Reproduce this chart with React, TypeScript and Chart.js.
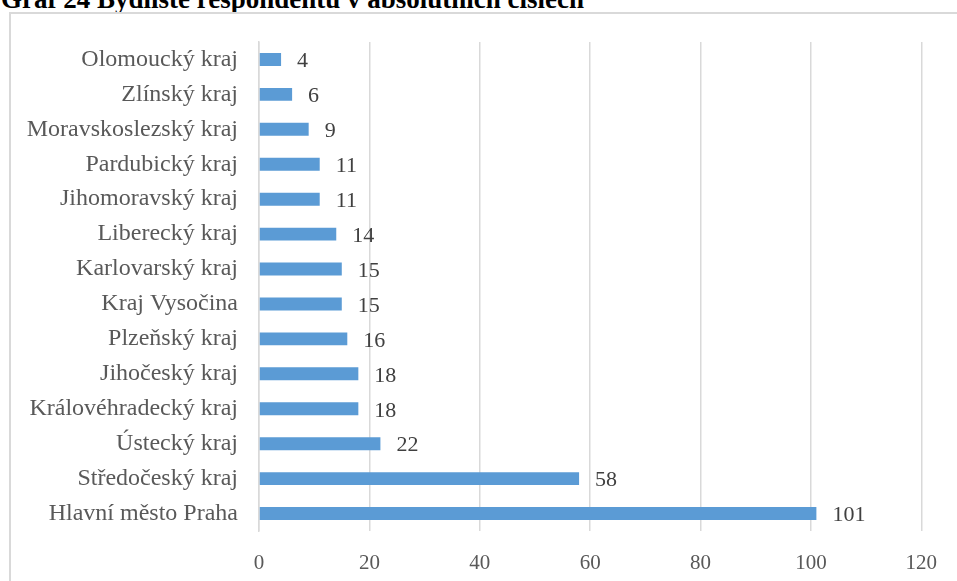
import React, { useEffect, useRef } from "react";
import { Chart, registerables } from "chart.js";

Chart.register(...registerables);

const TITLE = "Graf 24 Bydliště respondentů v absolutních číslech";
const regions = [
  "Olomoucký kraj",
  "Zlínský kraj",
  "Moravskoslezský kraj",
  "Pardubický kraj",
  "Jihomoravský kraj",
  "Liberecký kraj",
  "Karlovarský kraj",
  "Kraj Vysočina",
  "Plzeňský kraj",
  "Jihočeský kraj",
  "Královéhradecký kraj",
  "Ústecký kraj",
  "Středočeský kraj",
  "Hlavní město Praha",
];
const counts = [4, 6, 9, 11, 11, 14, 15, 15, 16, 18, 18, 22, 58, 101];
const xMax = 120;
const xStep = 20;

const FONT = "'Liberation Serif', 'Times New Roman', serif";

const valueLabels = {
  id: "valueLabels",
  afterDatasetsDraw(chart: any) {
    const ctx = chart.ctx;
    const meta = chart.getDatasetMeta(0);
    ctx.save();
    ctx.font = `22px ${FONT}`;
    ctx.fillStyle = "#404040";
    ctx.textAlign = "left";
    ctx.textBaseline = "middle";
    meta.data.forEach((el: any, i: number) => {
      ctx.fillText(String(counts[i]), el.x + 16, el.y + 2);
    });
    ctx.restore();
  },
};

export default function App() {
  const ref = useRef<HTMLCanvasElement | null>(null);
  useEffect(() => {
    if (!ref.current) return;
    const chart = new Chart(ref.current, {
      type: "bar",
      data: {
        labels: regions,
        datasets: [
          {
            data: counts,
            backgroundColor: "#5B9BD5",
            borderWidth: 0,
            barPercentage: 0.37,
            categoryPercentage: 1,
          },
        ],
      },
      options: {
        indexAxis: "y",
        animation: false,
        responsive: false,
        maintainAspectRatio: false,
        layout: { padding: { top: 42, right: 33, bottom: 0, left: 0 } },
        plugins: {
          legend: { display: false },
          tooltip: { enabled: false },
        },
        scales: {
          x: {
            min: 0,
            max: xMax,
            ticks: {
              stepSize: xStep,
              padding: 20,
              color: "#595959",
              font: { family: FONT, size: 21 },
            },
            grid: { color: "#d9d9d9", lineWidth: 1.5, drawTicks: false },
            border: { display: false },
            afterFit: (s: any) => {
              s.height = 50;
            },
          },
          y: {
            ticks: {
              padding: 21,
              color: "#595959",
              font: { family: FONT, size: 24 },
            },
            grid: { display: false, drawTicks: false },
            border: { display: true, color: "#d9d9d9", width: 1.5 },
            afterFit: (s: any) => {
              s.width = 259;
            },
          },
        },
      },
      plugins: [valueLabels],
    });
    return () => chart.destroy();
  }, []);

  return (
    <div
      style={{
        position: "fixed",
        left: 0,
        top: 0,
        width: 957,
        height: 581,
        overflow: "hidden",
        background: "#fff",
      }}
    >
      <div
        style={{
          position: "absolute",
          left: 1,
          top: -14,
          fontFamily: FONT,
          fontWeight: "bold",
          fontSize: 27,
          lineHeight: "27px",
          color: "#000",
          whiteSpace: "nowrap",
        }}
      >
        {TITLE}
      </div>
      <div
        style={{
          position: "absolute",
          left: 9,
          top: 12,
          width: 1000,
          height: 700,
          border: "2px solid #d9d9d9",
          boxSizing: "border-box",
        }}
      />
      <canvas
        ref={ref}
        width={957}
        height={581}
        style={{ position: "absolute", left: 0, top: 0, width: 957, height: 581 }}
      />
    </div>
  );
}
